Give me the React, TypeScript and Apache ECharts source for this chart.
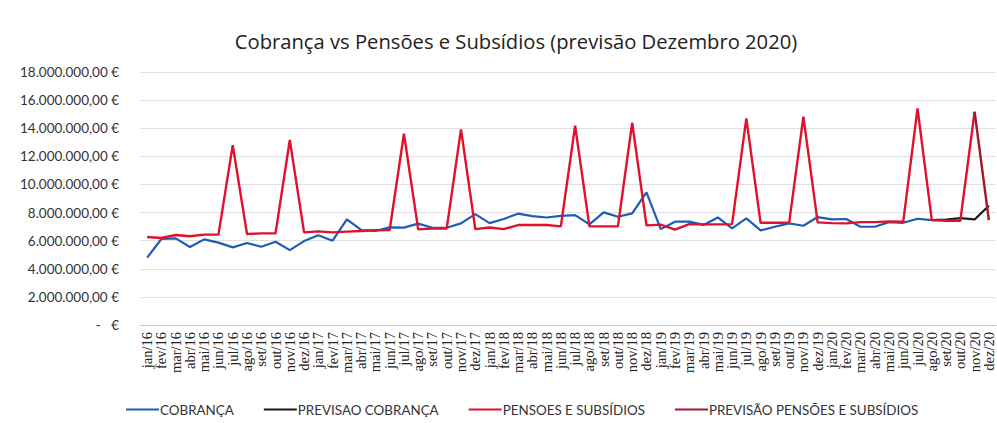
import React, { useEffect, useRef } from "react";
import * as echarts from "echarts";

const months = ["jan", "fev", "mar", "abr", "mai", "jun", "jul", "ago", "set", "out", "nov", "dez"];
const years = ["16", "17", "18", "19", "20"];
const categories: string[] = [];
years.forEach((y) => months.forEach((m) => categories.push(`${m}/${y}`)));

const yTicks = [0, 2e6, 4e6, 6e6, 8e6, 10e6, 12e6, 14e6, 16e6, 18e6];

// values in millions of euros
const cobranca = [
  4.79, 6.12, 6.16, 5.55, 6.09, 5.86, 5.52, 5.83, 5.57, 5.92, 5.33, 5.97,
  6.38, 6.0, 7.52, 6.76, 6.69, 6.95, 6.93, 7.21, 6.92, 6.92, 7.23, 7.89,
  7.25, 7.54, 7.92, 7.75, 7.65, 7.77, 7.82, 7.16, 8.01, 7.70, 7.94, 9.44,
  6.82, 7.35, 7.35, 7.12, 7.65, 6.87, 7.58, 6.73, 6.99, 7.23, 7.06, 7.68,
  7.51, 7.54, 6.99, 6.99, 7.32, 7.27, 7.56, 7.46,
];
const previsaoCobranca = [7.46, 7.5, 7.6, 7.51, 8.49]; // ago/20 .. dez/20

const pensoes = [
  6.26, 6.19, 6.40, 6.31, 6.43, 6.43, 12.80, 6.47, 6.52, 6.52, 13.16, 6.59,
  6.66, 6.59, 6.64, 6.69, 6.74, 6.76, 13.61, 6.80, 6.87, 6.87, 13.92, 6.82,
  6.94, 6.82, 7.11, 7.11, 7.11, 7.02, 14.18, 7.02, 7.02, 7.02, 14.39, 7.09,
  7.14, 6.78, 7.18, 7.16, 7.16, 7.18, 14.70, 7.27, 7.27, 7.27, 14.82, 7.30,
  7.25, 7.23, 7.32, 7.32, 7.37, 7.35, 15.41, 7.46, 7.42, 7.42, 15.17,
];
const previsaoPensoes = [15.17, 7.46]; // nov/20 .. dez/20

const toEuro = (v: number) => Math.round(v * 1e6);

function fmt(v: number): string {
  if (v === 0) return "-   €";
  const s = Math.round(v).toString().replace(/\B(?=(\d{3})+(?!\d))/g, ".");
  return `${s},00 €`;
}

export default function App() {
  const ref = useRef<HTMLDivElement>(null);
  useEffect(() => {
    if (!ref.current) return;
    const chart = echarts.init(ref.current, undefined, { renderer: "svg" });
    const n = categories.length;
    const cobrancaData = categories.map((_, i) => (i < cobranca.length ? toEuro(cobranca[i]) : null));
    const prevCobStart = n - previsaoCobranca.length;
    const prevCobData = categories.map((_, i) => (i >= prevCobStart ? toEuro(previsaoCobranca[i - prevCobStart]) : null));
    const pensoesData = categories.map((_, i) => (i < pensoes.length ? toEuro(pensoes[i]) : null));
    const prevPenStart = n - previsaoPensoes.length;
    const prevPenData = categories.map((_, i) => (i >= prevPenStart ? toEuro(previsaoPensoes[i - prevPenStart]) : null));

    const lineCommon = { type: "line" as const, showSymbol: false, symbol: "none", connectNulls: false };
    chart.setOption({
      animation: false,
      backgroundColor: "#ffffff",
      title: {
        text: "Cobrança vs Pensões e Subsídios (previsão Dezembro 2020)",
        left: 511,
        top: 26,
        textAlign: "center",
        textStyle: { fontFamily: "Open Sans", fontSize: 20.2, fontWeight: "normal", color: "#222" },
      },
      legend: {
        left: 121,
        top: 398,
        itemWidth: 33,
        itemHeight: 2,
        itemGap: 30,
        icon: "rect",
        textStyle: { fontFamily: "Lato", fontSize: 13.4, color: "#333", padding: [0, 0, 0, -4] },
        data: ["COBRANÇA", "PREVISAO COBRANÇA", "PENSOES E SUBSÍDIOS", "PREVISÃO PENSÕES E SUBSÍDIOS"],
      },
      grid: { left: 140, right: 1, top: 72, bottom: 98, containLabel: false },
      xAxis: {
        type: "category",
        data: categories,
        boundaryGap: true,
        axisTick: { show: false },
        axisLine: { lineStyle: { color: "#c8c8c8", width: 1 } },
        axisLabel: {
          interval: 0,
          rotate: 90,
          margin: 7,
          fontFamily: "Liberation Serif",
          fontSize: 14.5,
          color: "#222",
        },
      },
      yAxis: {
        type: "value",
        min: yTicks[0],
        max: yTicks[yTicks.length - 1],
        interval: 2e6,
        axisLine: { show: false },
        axisTick: { show: false },
        splitLine: { lineStyle: { color: "#e0e0e0", width: 1 } },
        axisLabel: {
          formatter: (v: number) => fmt(v),
          fontFamily: "Lato",
          fontSize: 13.5,
          color: "#333",
          margin: 21,
        },
      },
      series: [
        { ...lineCommon, name: "COBRANÇA", data: cobrancaData, z: 3, lineStyle: { color: "#1c5db5", width: 2.2 }, itemStyle: { color: "#1c5db5" } },
        { ...lineCommon, name: "PREVISAO COBRANÇA", data: prevCobData, z: 4, lineStyle: { color: "#1a1a1a", width: 2.2 }, itemStyle: { color: "#1a1a1a" } },
        { ...lineCommon, name: "PENSOES E SUBSÍDIOS", data: pensoesData, z: 5, lineStyle: { color: "#e0112b", width: 2.4 }, itemStyle: { color: "#e0112b" } },
        { ...lineCommon, name: "PREVISÃO PENSÕES E SUBSÍDIOS", data: prevPenData, z: 6, lineStyle: { color: "#a3162e", width: 2.4 }, itemStyle: { color: "#a3162e" } },
      ],
    });
    return () => chart.dispose();
  }, []);
  return <div ref={ref} style={{ position: "fixed", left: 0, top: 0, width: 997, height: 423 }} />;
}
